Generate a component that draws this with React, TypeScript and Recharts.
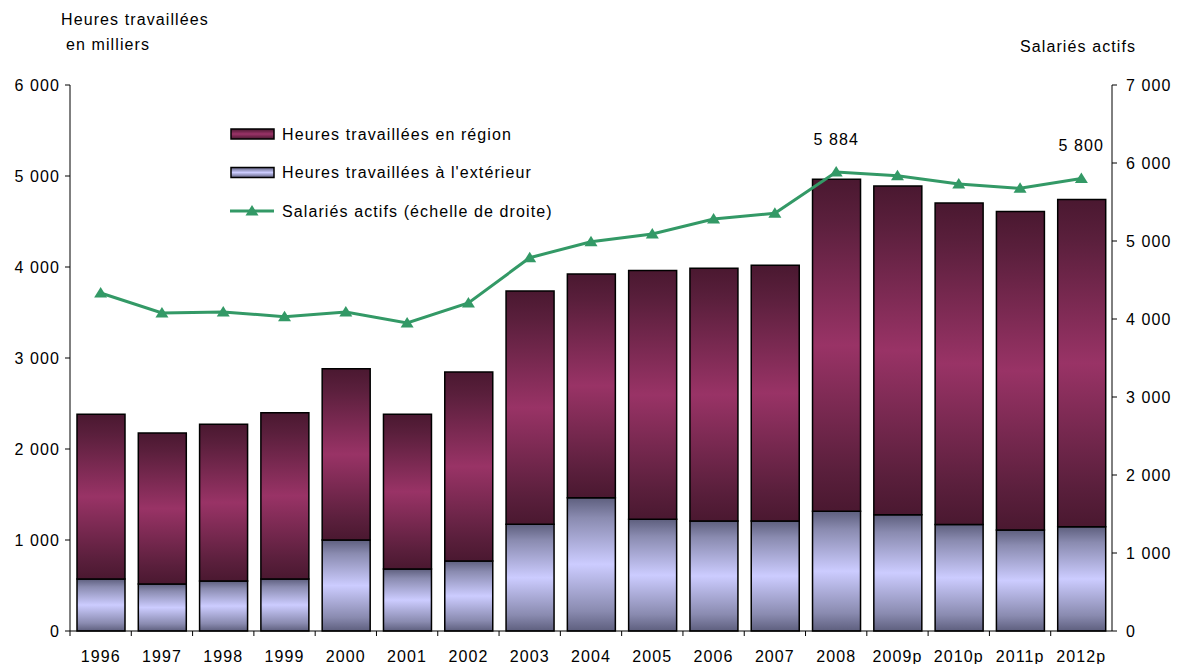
import React from 'react'
import { ComposedChart, Bar, Line, XAxis, YAxis, LabelList } from 'recharts'

const years = ['1996', '1997', '1998', '1999', '2000', '2001', '2002', '2003', '2004', '2005', '2006', '2007', '2008', '2009p', '2010p', '2011p', '2012p']
const heuresExterieur = [571, 516, 549, 571, 1000, 681, 769, 1172, 1465, 1227, 1209, 1209, 1315, 1277, 1170, 1110, 1145]
const heuresRegion = [1810, 1660, 1722, 1828, 1882, 1700, 2077, 2564, 2458, 2735, 2776, 2811, 3650, 3613, 3532, 3500, 3597]
const salariesActifs = [4333, 4077, 4090, 4030, 4090, 3950, 4205, 4786, 4991, 5090, 5282, 5355, 5884, 5837, 5731, 5675, 5800]
const labelledYears = ['2008', '2012p']
const leftTicks = [0, 1000, 2000, 3000, 4000, 5000, 6000]
const rightTicks = [0, 1000, 2000, 3000, 4000, 5000, 6000, 7000]

const data = years.map((year, i) => ({
  year,
  exterieur: heuresExterieur[i],
  region: heuresRegion[i],
  salaries: salariesActifs[i],
}))

const W = 1177
const H = 664
const MARGIN = { top: 85, right: 5, bottom: 3, left: 10 }
const LEFT_W = 60
const RIGHT_W = 60
const PLOT_W = W - MARGIN.left - MARGIN.right - LEFT_W - RIGHT_W
const STEP = PLOT_W / years.length
const X_TICK = 5
const X_MARGIN = 15

const FONT = '"Liberation Sans", Arial, sans-serif'
const LS = 1.1
const GREEN = '#339966'

const fmt = (n: number) => String(n).replace(/\B(?=(\d{3})+(?!\d))/g, ' ')

function YearTick(props: any) {
  const { x, y, payload } = props
  const axisY = y - X_TICK - X_MARGIN
  const left = x - STEP / 2
  return (
    <g>
      <line x1={left} y1={axisY} x2={left} y2={axisY + X_TICK} stroke="#000" />
      <text x={x} y={y} dy="0.71em" textAnchor="middle" fontSize={16} letterSpacing={LS} fill="#000" fontFamily={FONT}>
        {payload.value}
      </text>
    </g>
  )
}

function Triangle(props: any) {
  const { cx, cy } = props
  if (cx == null || cy == null) return null
  return <polygon points={`${cx - 6.5},${cy + 4.5} ${cx + 6.5},${cy + 4.5} ${cx},${cy - 6}`} fill={GREEN} />
}

function PeakLabel(props: any) {
  const { x, y, value, index } = props
  if (!labelledYears.includes(years[index])) return null
  return (
    <text x={x} y={y - 33} dy="0.35em" textAnchor="middle" fontSize={16} letterSpacing={LS} fill="#000" fontFamily={FONT}>
      {fmt(value)}
    </text>
  )
}

function LegendBox() {
  const rows = [
    { label: 'Heures travaillées en région', kind: 'region' },
    { label: "Heures travaillées à l'extérieur", kind: 'ext' },
    { label: 'Salariés actifs (échelle de droite)', kind: 'line' },
  ]
  return (
    <svg width={360} height={110} style={{ overflow: 'visible', display: 'block' }}>
      <defs>
        <linearGradient id="legRegion" x1="0" y1="0" x2="0" y2="1">
          <stop offset="0" stopColor="#4a1830" />
          <stop offset="0.5" stopColor="#9a3368" />
          <stop offset="1" stopColor="#4a1830" />
        </linearGradient>
        <linearGradient id="legExt" x1="0" y1="0" x2="0" y2="1">
          <stop offset="0" stopColor="#5e5f7e" />
          <stop offset="0.5" stopColor="#ccccff" />
          <stop offset="1" stopColor="#5e5f7e" />
        </linearGradient>
      </defs>
      {rows.map((r, i) => {
        const cy = 16 + i * 38.5
        return (
          <g key={r.label}>
            {r.kind === 'line' ? (
              <g>
                <line x1={0} y1={cy} x2={44} y2={cy} stroke={GREEN} strokeWidth={3} />
                <Triangle cx={22} cy={cy} />
              </g>
            ) : (
              <rect x={1} y={cy - 5} width={43} height={10} fill={r.kind === 'region' ? 'url(#legRegion)' : 'url(#legExt)'} stroke="#000" strokeWidth={1.5} />
            )}
            <text x={52} y={cy} dy="0.35em" fontSize={16} letterSpacing={LS} fill="#000" fontFamily={FONT}>
              {r.label}
            </text>
          </g>
        )
      })}
    </svg>
  )
}

export default function App() {
  const textStyle: React.CSSProperties = {
    position: 'absolute',
    fontFamily: FONT,
    fontSize: 16,
    letterSpacing: LS,
    color: '#000',
    whiteSpace: 'nowrap',
    lineHeight: '18px',
  }
  return (
    <div style={{ position: 'absolute', left: 0, top: 0, width: W, height: H, background: '#fff' }}>
      <div style={{ ...textStyle, left: 61, top: 11 }}>Heures travaillées</div>
      <div style={{ ...textStyle, left: 66, top: 36 }}>en milliers</div>
      <div style={{ ...textStyle, left: 1020, top: 38 }}>Salariés actifs</div>
      <ComposedChart width={W} height={H} data={data} margin={MARGIN} barSize={48}>
        <defs>
          <linearGradient id="gradRegion" x1="0" y1="0" x2="0" y2="1">
            <stop offset="0" stopColor="#4a1830" />
            <stop offset="0.12" stopColor="#5a1f3c" />
            <stop offset="0.5" stopColor="#993366" />
            <stop offset="0.88" stopColor="#5a1f3c" />
            <stop offset="1" stopColor="#4a1830" />
          </linearGradient>
          <linearGradient id="gradExt" x1="0" y1="0" x2="0" y2="1">
            <stop offset="0" stopColor="#5e5f7e" />
            <stop offset="0.15" stopColor="#8a8bb0" />
            <stop offset="0.5" stopColor="#ccccff" />
            <stop offset="0.85" stopColor="#8a8bb0" />
            <stop offset="1" stopColor="#5e5f7e" />
          </linearGradient>
        </defs>
        <XAxis
          dataKey="year"
          tick={<YearTick />}
          tickLine={false}
          tickSize={X_TICK}
          tickMargin={X_MARGIN}
          axisLine={{ stroke: '#000' }}
          interval={0}
          height={30}
        />
        <YAxis
          yAxisId="left"
          domain={[0, 6000]}
          ticks={leftTicks}
          tickFormatter={fmt}
          width={LEFT_W}
          tickSize={5}
          tickMargin={5}
          axisLine={{ stroke: '#000' }}
          tickLine={{ stroke: '#000' }}
          tick={{ fill: '#000', fontSize: 16, fontFamily: FONT, letterSpacing: LS }}
        />
        <YAxis
          yAxisId="right"
          orientation="right"
          domain={[0, 7000]}
          ticks={rightTicks}
          tickFormatter={fmt}
          width={RIGHT_W}
          tickSize={5}
          tickMargin={9}
          axisLine={{ stroke: '#000' }}
          tickLine={{ stroke: '#000' }}
          tick={{ fill: '#000', fontSize: 16, fontFamily: FONT, letterSpacing: LS }}
        />
        <Bar
          yAxisId="left"
          dataKey="exterieur"
          stackId="h"
          fill="url(#gradExt)"
          stroke="#000"
          strokeWidth={1.5}
          name="Heures travaillées à l'extérieur"
          isAnimationActive={false}
        />
        <Bar
          yAxisId="left"
          dataKey="region"
          stackId="h"
          fill="url(#gradRegion)"
          stroke="#000"
          strokeWidth={1.5}
          name="Heures travaillées en région"
          isAnimationActive={false}
        />
        <Line
          yAxisId="right"
          dataKey="salaries"
          stroke={GREEN}
          strokeWidth={3}
          dot={<Triangle />}
          activeDot={false}
          name="Salariés actifs (échelle de droite)"
          isAnimationActive={false}
        >
          <LabelList dataKey="salaries" content={<PeakLabel />} />
        </Line>
      </ComposedChart>
      <div style={{ position: 'absolute', left: 230, top: 118 }}>
        <LegendBox />
      </div>
    </div>
  )
}
